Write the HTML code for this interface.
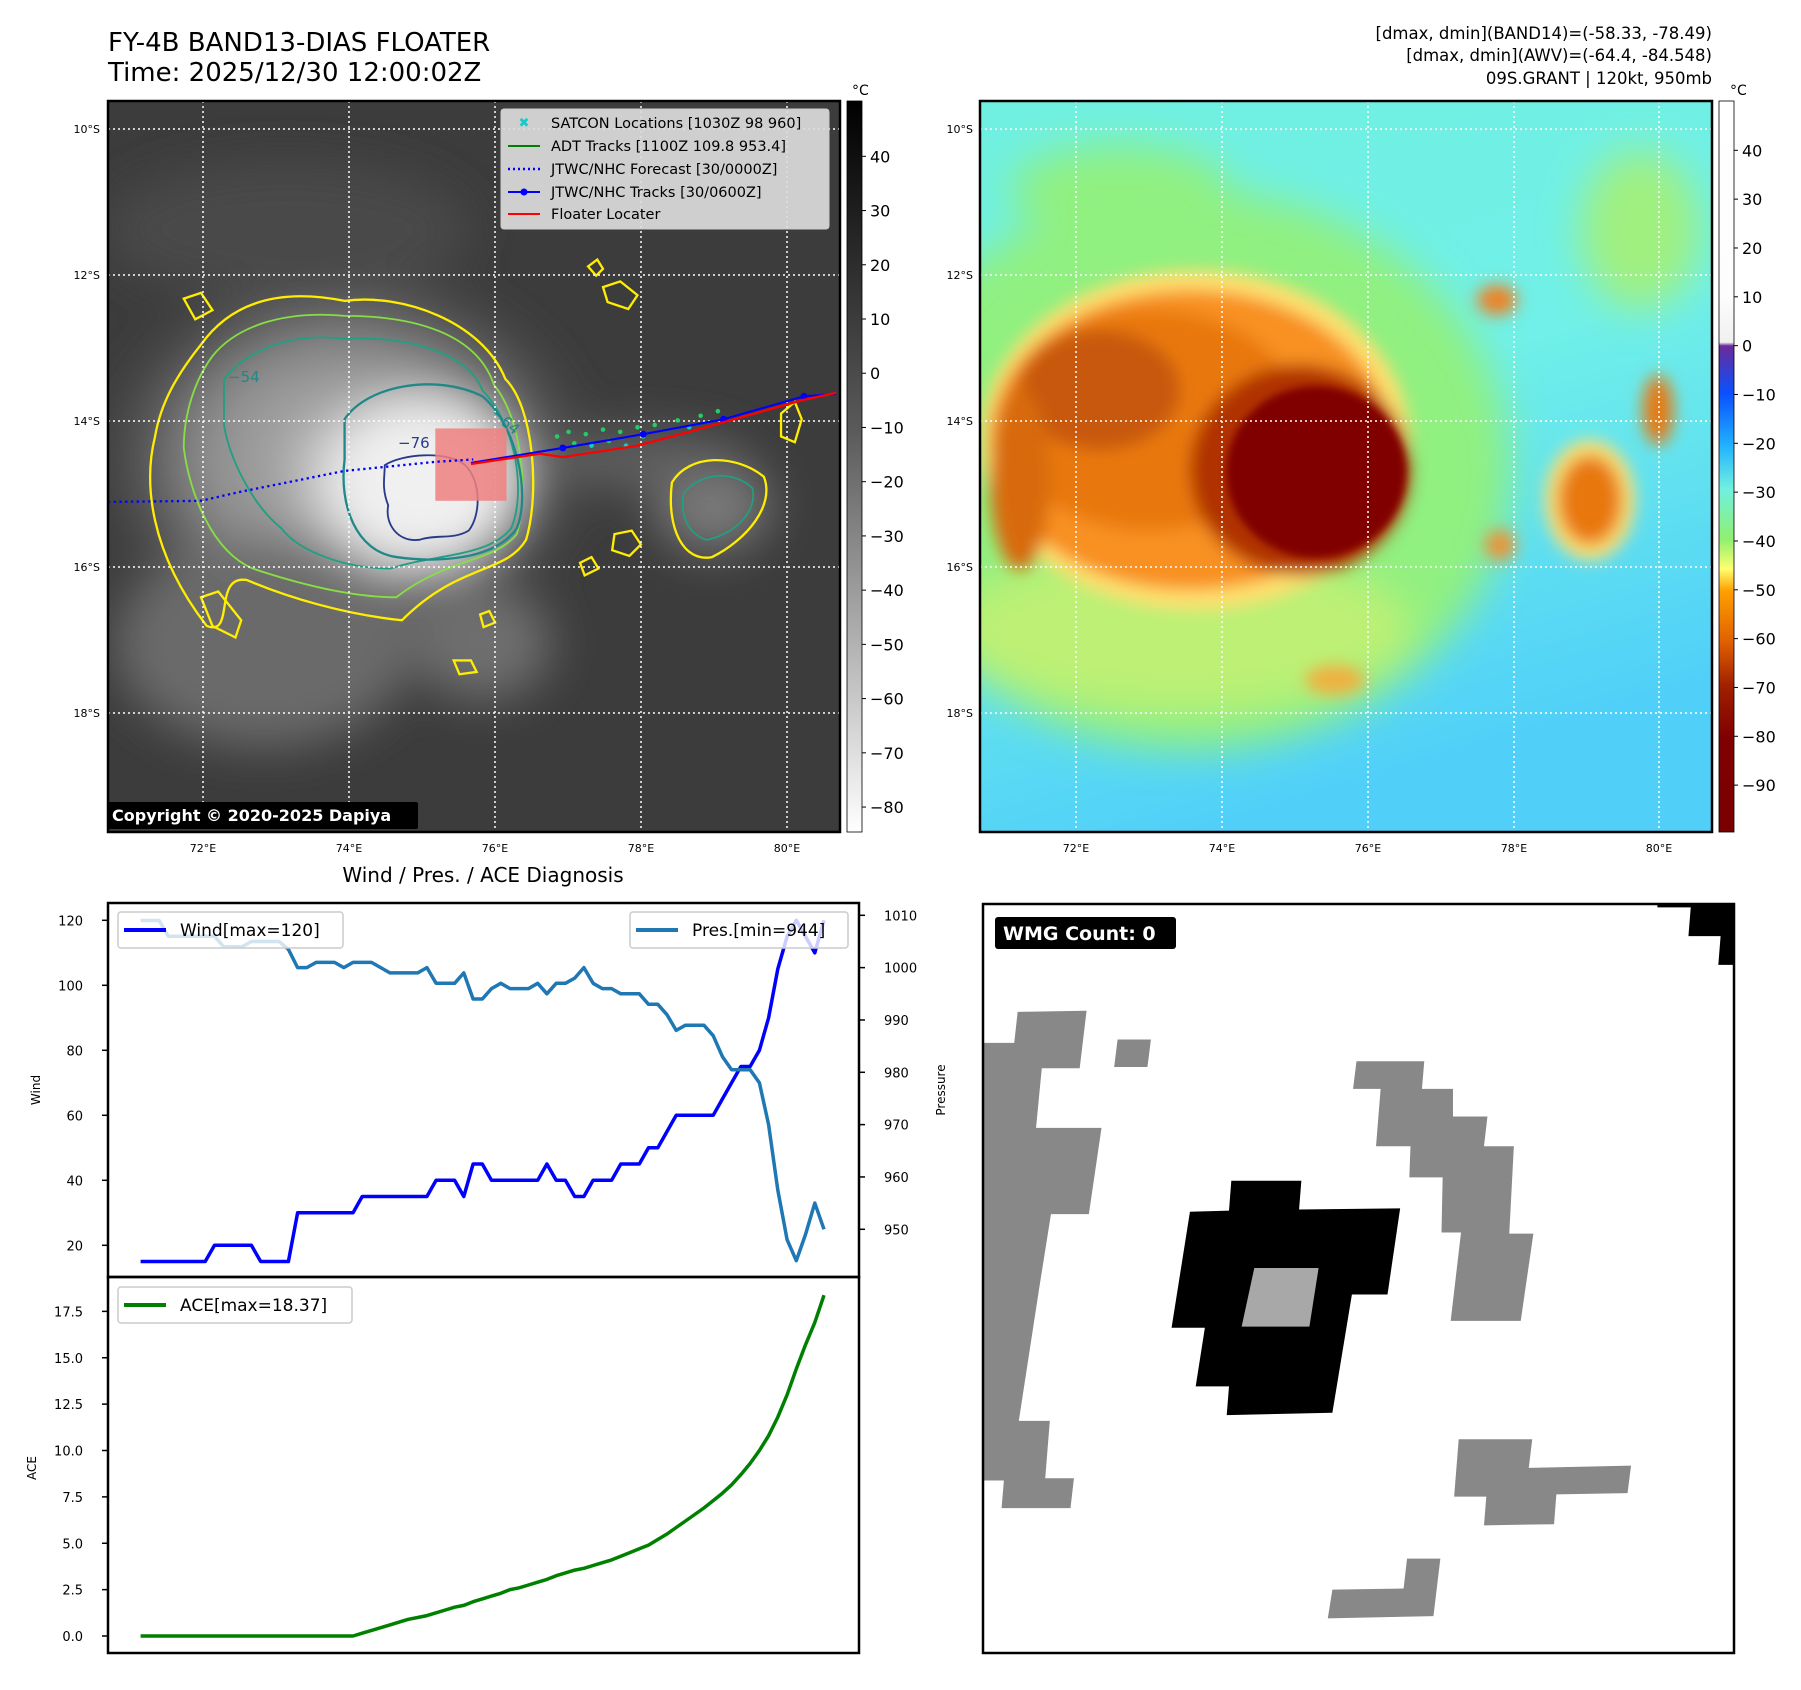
<!DOCTYPE html>
<html><head><meta charset="utf-8"><style>
html,body{margin:0;padding:0;background:#fff;}
svg{display:block;font-family:"DejaVu Sans","Liberation Sans",sans-serif;}
</style></head><body>
<svg id="root" width="1801" height="1690" viewBox="0 0 1801 1690" xmlns="http://www.w3.org/2000/svg">
<defs>
  <clipPath id="clipL"><rect x="108" y="101" width="732" height="731"/></clipPath>
  <clipPath id="clipR"><rect x="980" y="101" width="732" height="731"/></clipPath>
  <filter id="blur20"><feGaussianBlur stdDeviation="20"/></filter>
  <filter id="blur8"><feGaussianBlur stdDeviation="8"/></filter>
  <filter id="blur4"><feGaussianBlur stdDeviation="4"/></filter>
  <linearGradient id="cb1" x1="0" y1="0" x2="0" y2="1">
    <stop offset="0" stop-color="#000"/><stop offset="0.45" stop-color="#5a5a5a"/><stop offset="1" stop-color="#fff"/>
  </linearGradient>
  <linearGradient id="cb2" x1="0" y1="0" x2="0" y2="1">
    <stop offset="0" stop-color="#fff"/><stop offset="0.265" stop-color="#fdfdfd"/>
    <stop offset="0.33" stop-color="#f0f0f0"/><stop offset="0.335" stop-color="#6a2a9a"/>
    <stop offset="0.40" stop-color="#0a50ff"/><stop offset="0.47" stop-color="#20b0ff"/>
    <stop offset="0.53" stop-color="#70f0e0"/><stop offset="0.60" stop-color="#90f070"/>
    <stop offset="0.64" stop-color="#ffff70"/><stop offset="0.67" stop-color="#ffa000"/>
    <stop offset="0.74" stop-color="#e06000"/><stop offset="0.80" stop-color="#a02000"/>
    <stop offset="0.87" stop-color="#800000"/><stop offset="1" stop-color="#7a0000"/>
  </linearGradient>
  <linearGradient id="rbg" x1="0" y1="0" x2="0.3" y2="1">
    <stop offset="0" stop-color="#70f0e0"/><stop offset="0.5" stop-color="#70f0e8"/><stop offset="1" stop-color="#50d0f8"/>
  </linearGradient>
  <radialGradient id="core" cx="0.5" cy="0.5" r="0.5">
    <stop offset="0" stop-color="#f4f4f4"/><stop offset="0.6" stop-color="#e0e0e0"/><stop offset="1" stop-color="#e0e0e0" stop-opacity="0"/>
  </radialGradient>
  <radialGradient id="cloud" cx="0.5" cy="0.5" r="0.5">
    <stop offset="0" stop-color="#b8b8b8"/><stop offset="0.6" stop-color="#8a8a8a"/><stop offset="1" stop-color="#5a5a5a" stop-opacity="0"/>
  </radialGradient>
</defs>

<!-- Titles -->
<text x="108" y="51" font-size="26" fill="#000">FY-4B BAND13-DIAS FLOATER</text>
<text x="108" y="81" font-size="26" fill="#000">Time: 2025/12/30 12:00:02Z</text>
<g font-size="16.5" text-anchor="end" fill="#000">
  <text x="1712" y="39">[dmax, dmin](BAND14)=(-58.33, -78.49)</text>
  <text x="1712" y="61">[dmax, dmin](AWV)=(-64.4, -84.548)</text>
  <text x="1712" y="84">09S.GRANT | 120kt, 950mb</text>
</g>

<!-- LEFT MAP -->
<g clip-path="url(#clipL)">
  <rect x="108" y="101" width="732" height="731" fill="#3c3c3c"/>
  <g transform="scale(1.1486)">
    <g filter="url(#blur20)">
      <ellipse cx="300" cy="400" rx="220" ry="170" fill="url(#cloud)"/>
      <ellipse cx="230" cy="560" rx="130" ry="90" fill="#6a6a6a"/>
      <ellipse cx="420" cy="560" rx="60" ry="50" fill="#6e6e6e"/>
      <ellipse cx="620" cy="440" rx="50" ry="40" fill="#7a7a7a"/>
      <ellipse cx="560" cy="400" rx="90" ry="25" fill="#606060"/>
      <ellipse cx="250" cy="200" rx="160" ry="60" fill="#4a4a4a"/>
      <ellipse cx="360" cy="420" rx="110" ry="90" fill="url(#core)"/>
      <ellipse cx="370" cy="420" rx="80" ry="70" fill="#f0f0f0"/>
    </g>
    <path d="M175,300 C200,265 240,250 300,262 C350,255 420,280 440,330 C465,355 470,430 458,470 C440,500 400,490 350,540 C300,535 250,520 215,505 C185,500 205,555 180,545 C130,480 125,420 135,380 C140,350 155,325 175,300 Z" fill="none" stroke="#ffee00" stroke-width="2"/>
    <path d="M185,310 C205,285 245,270 300,275 C360,275 415,290 430,335 C455,365 460,430 450,465 C430,490 390,485 345,520 C300,520 250,505 220,495 C185,480 165,430 160,390 C160,360 170,330 185,310 Z" fill="none" stroke="#88dd44" stroke-width="1.6"/>
    <path d="M195,330 C220,300 260,290 300,295 C360,292 410,310 420,340 C450,370 458,430 445,460 C425,485 380,482 340,495 C300,495 260,480 245,460 C220,440 200,400 195,370 Z" fill="none" stroke="#20a080" stroke-width="1.6"/>
    <path d="M300,365 C320,335 380,325 420,345 C450,370 462,430 450,460 C430,488 380,490 345,485 C310,480 295,440 300,400 Z" fill="none" stroke="#208888" stroke-width="2"/>
    <path d="M335,405 C350,395 390,392 405,405 C420,420 418,450 408,462 C395,470 380,465 365,470 C345,472 335,455 338,440 C332,425 335,415 335,405 Z" fill="none" stroke="#2a3a8a" stroke-width="1.6"/>
    <g fill="none" stroke="#ffee00" stroke-width="2">
      <path d="M512,232 l8,-6 l5,8 l-6,6 z"/>
      <path d="M525,250 l15,-5 l15,12 l-8,12 l-18,-6 z"/>
      <path d="M535,465 l15,-3 l8,12 l-10,10 l-15,-5 z"/>
      <path d="M505,490 l10,-5 l6,10 l-12,6 z"/>
      <path d="M585,420 C600,395 640,395 665,415 C675,440 650,470 620,485 C595,490 580,460 585,420 Z"/>
      <path d="M418,535 l8,-3 l5,10 l-10,4 z"/>
      <path d="M395,575 l15,0 l5,10 l-15,2 z"/>
      <path d="M680,360 l12,-10 l6,15 l-6,20 l-12,-5 z"/>
      <path d="M160,260 l15,-5 l10,15 l-15,8 z"/>
      <path d="M175,520 l15,-5 l20,25 l-5,15 l-20,-10 z"/>
    </g>
    <path d="M595,430 C610,410 640,410 655,425 C660,445 640,465 615,470 C600,465 592,450 595,430 Z" fill="none" stroke="#20a080" stroke-width="1.5"/>
  </g>
  <g stroke="#fff" stroke-width="1.5" stroke-dasharray="2,3">
    <line x1="203" y1="101" x2="203" y2="832"/><line x1="349" y1="101" x2="349" y2="832"/>
    <line x1="495" y1="101" x2="495" y2="832"/><line x1="641" y1="101" x2="641" y2="832"/>
    <line x1="787" y1="101" x2="787" y2="832"/>
    <line x1="108" y1="129" x2="840" y2="129"/><line x1="108" y1="275" x2="840" y2="275"/>
    <line x1="108" y1="421" x2="840" y2="421"/><line x1="108" y1="567" x2="840" y2="567"/>
    <line x1="108" y1="713" x2="840" y2="713"/>
  </g>
  <g transform="scale(1.1486)">
    <g fill="#22cc66">
      <circle cx="485" cy="380" r="2"/><circle cx="495" cy="376" r="2"/><circle cx="510" cy="378" r="2"/><circle cx="525" cy="374" r="2"/><circle cx="540" cy="376" r="2"/><circle cx="555" cy="372" r="2"/><circle cx="570" cy="370" r="2"/><circle cx="590" cy="366" r="2"/><circle cx="610" cy="362" r="2"/><circle cx="625" cy="358" r="2"/><circle cx="500" cy="386" r="2"/><circle cx="530" cy="384" r="2"/><circle cx="560" cy="380" r="2"/><circle cx="545" cy="388" r="2" fill="#1cc"/><circle cx="515" cy="388" r="2" fill="#1cc"/><circle cx="600" cy="372" r="2" fill="#1cc"/>
    </g>
    <rect x="379" y="373" width="62" height="63" fill="#f08080" fill-opacity="0.85"/>
    <polyline points="94,437 175,436 210,428 300,410 380,402 412,400" fill="none" stroke="#0000ff" stroke-width="2" stroke-dasharray="2,3"/>
    <polyline points="410,403 490,390 560,378 630,365 700,345 728,343" fill="none" stroke="#0000ff" stroke-width="1.8"/>
    <g fill="#0000ff"><circle cx="490" cy="390" r="3"/><circle cx="560" cy="378" r="3"/><circle cx="630" cy="365" r="3"/><circle cx="700" cy="345" r="3"/></g>
    <polyline points="410,404 470,395 490,398 555,388 600,376 700,348 728,342" fill="none" stroke="#ff0000" stroke-width="2"/>
  </g>
  <g font-size="15" fill="#2a3a8a"><text x="398" y="448">−76</text></g>
  <g font-size="15" fill="#208888"><text x="228" y="382">−54</text><text x="490" y="415" transform="rotate(40 490 415)">−64</text></g>
</g>
<rect x="108" y="101" width="732" height="731" fill="none" stroke="#000" stroke-width="2.5"/>
<g>
  <rect x="501" y="109" width="328" height="120" rx="3" fill="#dcdcdc" fill-opacity="0.92" stroke="#ccc"/>
  <g font-size="14.5" fill="#000">
    <text x="524" y="127" font-size="13" fill="#1cc" text-anchor="middle" font-weight="bold">✖</text>
    <text x="551" y="128">SATCON Locations [1030Z 98 960]</text>
    <line x1="508" y1="146" x2="540" y2="146" stroke="#008000" stroke-width="2"/>
    <text x="551" y="151">ADT Tracks [1100Z 109.8 953.4]</text>
    <line x1="508" y1="169" x2="540" y2="169" stroke="#0000ff" stroke-width="2.5" stroke-dasharray="2,3"/>
    <text x="551" y="174">JTWC/NHC Forecast [30/0000Z]</text>
    <line x1="508" y1="192" x2="540" y2="192" stroke="#0000ff" stroke-width="2"/><circle cx="524" cy="192" r="3.5" fill="#0000ff"/>
    <text x="551" y="197">JTWC/NHC Tracks [30/0600Z]</text>
    <line x1="508" y1="214" x2="540" y2="214" stroke="#ff0000" stroke-width="2"/>
    <text x="551" y="219">Floater Locater</text>
  </g>
</g>
<g>
  <rect x="108" y="802" width="310" height="27" rx="2" fill="#000"/>
  <text x="112" y="821" font-size="16" font-weight="bold" fill="#fff">Copyright © 2020-2025 Dapiya</text>
</g>
<g font-size="11" fill="#000" text-anchor="end">
  <text x="100" y="133">10°S</text><text x="100" y="279">12°S</text><text x="100" y="425">14°S</text><text x="100" y="571">16°S</text><text x="100" y="717">18°S</text>
</g>
<g font-size="11" fill="#000" text-anchor="middle">
  <text x="203" y="852">72°E</text><text x="349" y="852">74°E</text><text x="495" y="852">76°E</text><text x="641" y="852">78°E</text><text x="787" y="852">80°E</text>
</g>
<g>
  <rect x="847" y="101" width="15" height="731" fill="url(#cb1)" stroke="#000" stroke-width="0.8"/>
  <text x="852" y="95" font-size="14">°C</text>
  <g font-size="16" fill="#000" id="cb1labels"></g>
</g>

<!-- RIGHT MAP -->
<g clip-path="url(#clipR)">
  <rect x="980" y="101" width="732" height="731" fill="url(#rbg)"/>
  <g filter="url(#blur20)">
    <ellipse cx="1190" cy="470" rx="320" ry="280" fill="#90f080"/>
    <ellipse cx="1120" cy="190" rx="110" ry="45" fill="#90f080"/>
    <ellipse cx="1640" cy="230" rx="60" ry="80" fill="#a0f080"/>
    <ellipse cx="1180" cy="630" rx="230" ry="80" fill="#d0f070" opacity="0.7"/>
  </g>
  <g filter="url(#blur8)">
    <ellipse cx="1195" cy="440" rx="215" ry="170" fill="#ffe070"/>
    <ellipse cx="1190" cy="440" rx="200" ry="150" fill="#f89020"/>
    <ellipse cx="1150" cy="420" rx="150" ry="110" fill="#e87810"/>
    <ellipse cx="1100" cy="390" rx="80" ry="60" fill="#c85808"/>
    <ellipse cx="1020" cy="480" rx="30" ry="90" fill="#d86a10"/>
    <ellipse cx="1300" cy="470" rx="110" ry="105" fill="#b03000"/>
    <ellipse cx="1590" cy="500" rx="45" ry="60" fill="#ffe070"/>
    <ellipse cx="1590" cy="500" rx="32" ry="45" fill="#e87810"/>
    <ellipse cx="1658" cy="410" rx="15" ry="35" fill="#e87810"/>
    <ellipse cx="1497" cy="300" rx="20" ry="15" fill="#f08020"/>
    <ellipse cx="1500" cy="545" rx="15" ry="15" fill="#f09030"/>
    <ellipse cx="1335" cy="680" rx="30" ry="15" fill="#f0b040"/>
  </g>
  <ellipse cx="1316" cy="472" rx="90" ry="86" fill="#800000" filter="url(#blur4)"/>
  <g stroke="#fff" stroke-width="1.5" stroke-dasharray="2,3">
    <line x1="1076" y1="101" x2="1076" y2="832"/><line x1="1222" y1="101" x2="1222" y2="832"/>
    <line x1="1368" y1="101" x2="1368" y2="832"/><line x1="1514" y1="101" x2="1514" y2="832"/>
    <line x1="1659" y1="101" x2="1659" y2="832"/>
    <line x1="980" y1="129" x2="1712" y2="129"/><line x1="980" y1="275" x2="1712" y2="275"/>
    <line x1="980" y1="421" x2="1712" y2="421"/><line x1="980" y1="567" x2="1712" y2="567"/>
    <line x1="980" y1="713" x2="1712" y2="713"/>
  </g>
</g>
<rect x="980" y="101" width="732" height="731" fill="none" stroke="#000" stroke-width="2.5"/>
<g font-size="11" fill="#000" text-anchor="end">
  <text x="973" y="133">10°S</text><text x="973" y="279">12°S</text><text x="973" y="425">14°S</text><text x="973" y="571">16°S</text><text x="973" y="717">18°S</text>
</g>
<g font-size="11" fill="#000" text-anchor="middle">
  <text x="1076" y="852">72°E</text><text x="1222" y="852">74°E</text><text x="1368" y="852">76°E</text><text x="1514" y="852">78°E</text><text x="1659" y="852">80°E</text>
</g>
<g>
  <rect x="1719" y="101" width="15" height="731" fill="url(#cb2)" stroke="#000" stroke-width="0.8"/>
  <text x="1730" y="95" font-size="14">°C</text>
  <g font-size="16" fill="#000" id="cb2labels"></g>
</g>

<text x="483" y="882" font-size="20" text-anchor="middle">Wind / Pres. / ACE Diagnosis</text>
<g id="chart"></g>

<!-- WMG PANEL -->
<g>
  <rect x="983" y="904" width="751" height="749" fill="#fff"/>
  <g transform="scale(1.1486)">
    <g fill="#888">
      <polygon points="856,908 883,908 886,881 946,880 940,930 907,930 902,982 959,982 948,1057 915,1057 905,1120 887,1237 914,1237 910,1287 935,1287 932,1313 872,1313 874,1289 856,1289"/>
      <polygon points="973,905 1002,905 999,929 970,929"/>
      <polygon points="1181,924 1240,924 1238,948 1265,948 1265,972 1295,972 1292,998 1318,998 1314,1074 1335,1074 1324,1150 1263,1150 1272,1073 1255,1073 1256,1025 1227,1025 1228,998 1198,998 1202,948 1178,948"/>
      <polygon points="1270,1253 1334,1253 1331,1278 1420,1276 1417,1300 1355,1301 1353,1327 1292,1328 1294,1303 1266,1303"/>
      <polygon points="1225,1357 1254,1357 1248,1407 1156,1409 1160,1384 1222,1383"/>
    </g>
    <polygon points="1072,1028 1133,1028 1131,1053 1219,1052 1208,1127 1177,1127 1160,1230 1068,1232 1070,1207 1041,1207 1049,1156 1020,1156 1036,1055 1070,1054" fill="#000"/>
    <polygon points="1092,1104 1148,1104 1140,1155 1081,1155" fill="#a8a8a8"/>
    <polygon points="1443,787 1509,787 1509,840 1496,840 1498,815 1470,815 1472,790 1443,790" fill="#000"/>
  </g>
  <rect x="983" y="904" width="751" height="749" fill="none" stroke="#000" stroke-width="2.5"/>
  <rect x="995" y="917" width="181" height="32" rx="3" fill="#000"/>
  <text x="1003" y="940" font-size="19" font-weight="bold" fill="#fff">WMG Count: 0</text>
</g>

<script>
const windVals = [15,15,15,15,15,15,15,15,20,20,20,20,20,15,15,15,15,30,30,30,30,30,30,30,35,35,35,35,35,35,35,35,40,40,40,35,45,45,40,40,40,40,40,40,45,40,40,35,35,40,40,40,45,45,45,50,50,55,60,60,60,60,60,65,70,75,75,80,90,105,115,120,115,110,120];
const presVals = [1009,1009,1009,1006,1006,1006,1006,1006,1006,1004,1004,1004,1005,1005,1005,1005,1003.5,1000,1000,1001,1001,1001,1000,1001,1001,1001,1000,999,999,999,999,1000,997,997,997,999,994,994,996,997,996,996,996,997,995,997,997,998,1000,997,996,996,995,995,995,993,993,991,988,989,989,989,987,983,980.5,980.5,980.5,978,970,957.5,948,944,949,955,950];
const aceVals = [0,0,0,0,0,0,0,0,0,0,0,0,0,0,0,0,0,0,0,0,0,0,0,0,0.15,0.3,0.45,0.6,0.75,0.9,1.0,1.1,1.25,1.4,1.55,1.65,1.85,2.0,2.15,2.3,2.5,2.6,2.75,2.9,3.05,3.25,3.4,3.55,3.65,3.8,3.95,4.1,4.3,4.5,4.7,4.9,5.2,5.5,5.85,6.2,6.55,6.9,7.3,7.7,8.15,8.7,9.3,10.0,10.8,11.8,13.0,14.4,15.7,16.9,18.37];
const windTicks = [20,40,60,80,100,120];
const presTicks = [1010,1000,990,980,970,960,950];
const aceTicks = ["0.0","2.5","5.0","7.5","10.0","12.5","15.0","17.5"];
const cb1Ticks = [40,30,20,10,0,-10,-20,-30,-40,-50,-60,-70,-80];
const cb2Ticks = [40,30,20,10,0,-10,-20,-30,-40,-50,-60,-70,-80,-90];

const NS = "http://www.w3.org/2000/svg";
function mk(tag, attrs, parent){const e=document.createElementNS(NS,tag);for(const k in attrs)e.setAttribute(k,attrs[k]);parent.appendChild(e);return e;}
const xS = i => 140.6 + i*(824-140.6)/(windVals.length-1);
const yW = v => 1245.3 - (v-20)*3.25;
const yP = p => 915.3 + (1010-p)*5.233;
const yA = a => 1636 - a*18.55;
const yC1 = v => 101 + (50.2 - v)/(50.2+84.6)*731;
const yC2 = v => 101 + (50.1 - v)/(50.1+99.6)*731;

const g1 = document.getElementById('cb1labels');
cb1Ticks.forEach(v=>{
  mk('line',{x1:862,x2:866,y1:yC1(v),y2:yC1(v),stroke:'#000'},g1);
  const t=mk('text',{x:870,y:yC1(v)+6},g1); t.textContent=(v<0?'−'+(-v):v);
  
  
});
const g2 = document.getElementById('cb2labels');
cb2Ticks.forEach(v=>{
  mk('line',{x1:1734,x2:1738,y1:yC2(v),y2:yC2(v),stroke:'#000'},g2);
  const t=mk('text',{x:1742,y:yC2(v)+6},g2); t.textContent=(v<0?'−'+(-v):v);
  
  
});

const ch = document.getElementById('chart');
const f1 = mk('rect',{x:108,y:903,width:751,height:374,fill:'none',stroke:'#000','stroke-width':2.5},ch);


const f2 = mk('rect',{x:108,y:1277,width:751,height:376,fill:'none',stroke:'#000','stroke-width':2.5},ch);



windTicks.forEach(v=>{
  mk('line',{x1:102,x2:108,y1:yW(v),y2:yW(v),stroke:'#000','stroke-width':1.5},ch);
  const t=mk('text',{x:83,y:yW(v)+5,'font-size':13,'text-anchor':'end'},ch); t.textContent=v;
  
  
});
presTicks.forEach(v=>{
  mk('line',{x1:859,x2:865,y1:yP(v),y2:yP(v),stroke:'#000','stroke-width':1.5},ch);
  const t=mk('text',{x:884,y:yP(v)+5,'font-size':13},ch); t.textContent=v;
  
  
});
aceTicks.forEach(s=>{
  const v=parseFloat(s);
  mk('line',{x1:102,x2:108,y1:yA(v),y2:yA(v),stroke:'#000','stroke-width':1.5},ch);
  const t=mk('text',{x:83,y:yA(v)+5,'font-size':13,'text-anchor':'end'},ch); t.textContent=s;
  
  
});
const yl1=mk('text',{x:0,y:0,'font-size':12,'text-anchor':'middle',transform:'translate(40,1090) rotate(-90)'},ch); yl1.textContent='Wind';


const yl2=mk('text',{x:0,y:0,'font-size':12,'text-anchor':'middle',transform:'translate(945,1090) rotate(-90)'},ch); yl2.textContent='Pressure';


const yl3=mk('text',{x:0,y:0,'font-size':12,'text-anchor':'middle',transform:'translate(36,1468) rotate(-90)'},ch); yl3.textContent='ACE';



function pts(arr, yf){return arr.map((v,i)=>xS(i).toFixed(1)+','+yf(v).toFixed(1)).join(' ');}
const lw = mk('polyline',{points:pts(windVals,yW),fill:'none',stroke:'#0000ff','stroke-width':3.5,'stroke-linejoin':'round'},ch);


const lp = mk('polyline',{points:pts(presVals,yP),fill:'none',stroke:'#1f77b4','stroke-width':3.5,'stroke-linejoin':'round'},ch);


const la = mk('polyline',{points:pts(aceVals,yA),fill:'none',stroke:'#008000','stroke-width':3.5,'stroke-linejoin':'round'},ch);



function legend(x,y,w,color,label,name){
  const g=mk('g',{},ch);
  
  
  mk('rect',{x:x,y:y,width:w,height:36,rx:3,fill:'#fff','fill-opacity':0.8,stroke:'#ccc','stroke-width':1.5},g);
  mk('line',{x1:x+6,x2:x+48,y1:y+18,y2:y+18,stroke:color,'stroke-width':4},g);
  const t=mk('text',{x:x+62,y:y+24,'font-size':17},g); t.textContent=label;
}
legend(118,912,225,'#0000ff','Wind[max=120]','wind-legend');
legend(630,912,218,'#1f77b4','Pres.[min=944]','pressure-legend');
legend(118,1287,234,'#008000','ACE[max=18.37]','ace-legend');
</script>
</svg>
</body></html>
